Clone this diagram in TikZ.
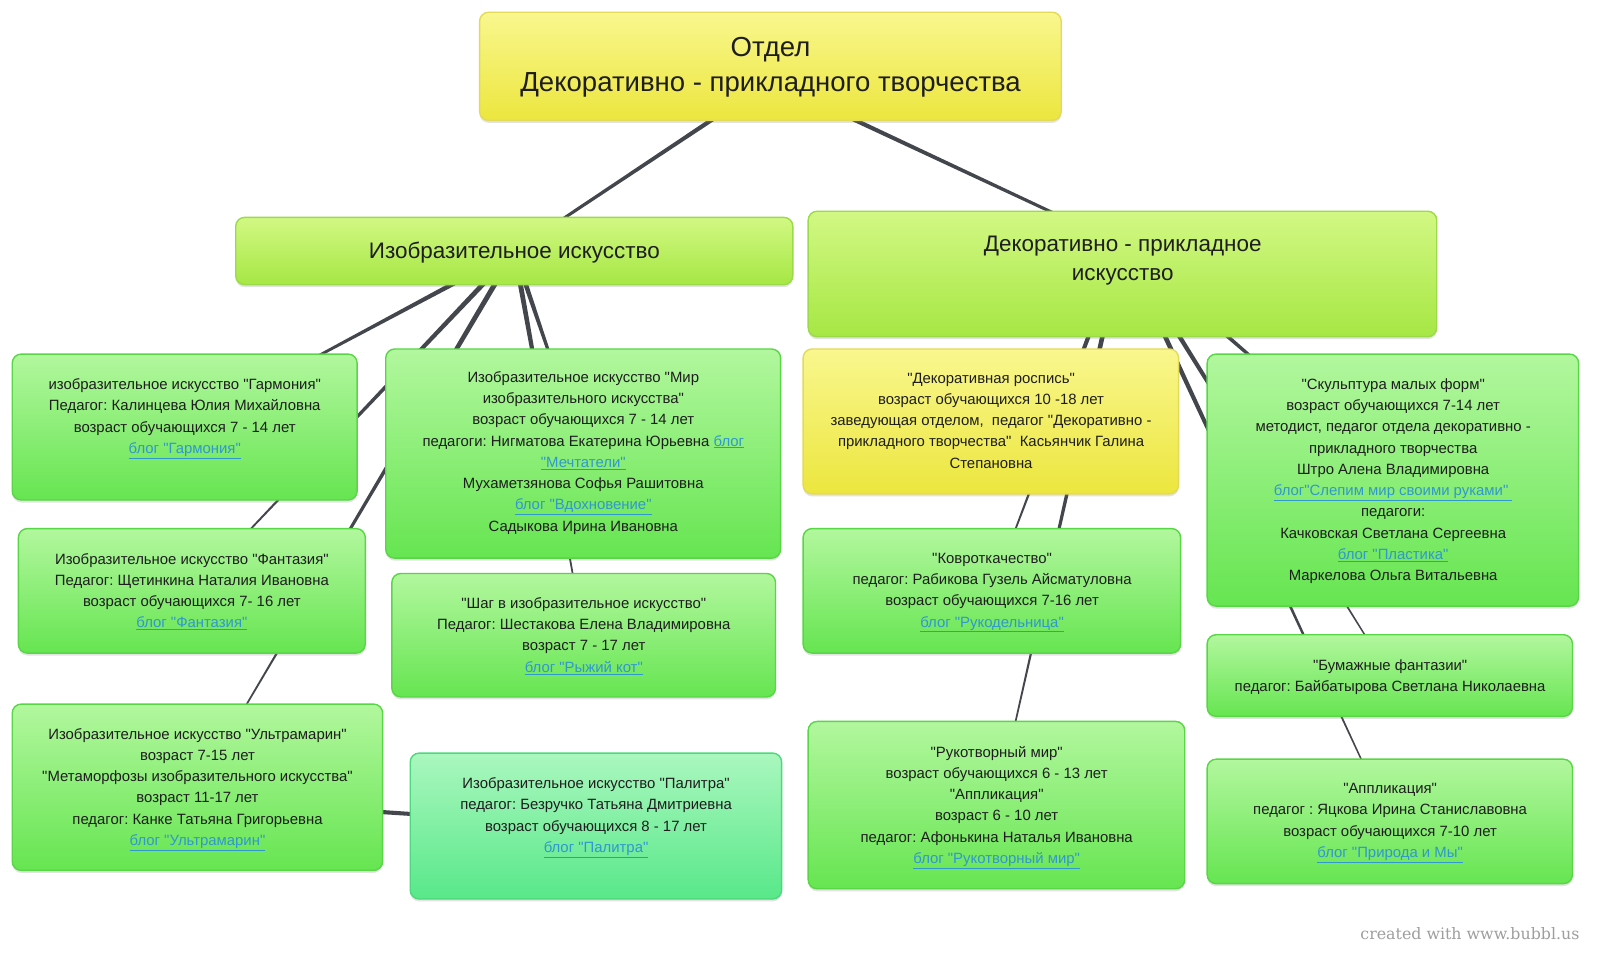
\documentclass[tikz,border=0pt]{standalone}
\usepackage{fontspec}
\setmainfont{Liberation Sans}[Ligatures=TeXOff]
\newfontfamily\creditfont{DejaVu Serif}[Ligatures=TeXOff]
\usetikzlibrary{positioning,calc,shadows,backgrounds}
\frenchspacing

\definecolor{yelTop}{HTML}{F9F78E}
\definecolor{yelMid}{HTML}{F3EF5C}
\definecolor{yelBot}{HTML}{ECE63E}
\definecolor{yelLine}{HTML}{E4DA5A}
\definecolor{limeTop}{HTML}{D2F883}
\definecolor{limeMid}{HTML}{BDF05E}
\definecolor{limeBot}{HTML}{A6E744}
\definecolor{limeLine}{HTML}{9BDB4A}
\definecolor{leafTop}{HTML}{B2F79E}
\definecolor{leafMid}{HTML}{8AEE72}
\definecolor{leafBot}{HTML}{66E551}
\definecolor{leafLine}{HTML}{58D646}
\definecolor{mintTop}{HTML}{AAF7BE}
\definecolor{mintMid}{HTML}{7FF0A4}
\definecolor{mintBot}{HTML}{58E88A}
\definecolor{mintLine}{HTML}{4CD87C}
\definecolor{linkblue}{HTML}{2F98CF}
\definecolor{wire}{HTML}{43464C}
\definecolor{inkdark}{HTML}{1E1E1E}

\newcommand{\blog}[1]{\textcolor{linkblue}{\underline{#1}}}
% tapered connector from #1 to #2
\newcommand{\branch}[4]{%
  \fill[wire] ($(#1)!#3!90:(#2)$) -- ($(#2)!#4!-90:(#1)$)
    -- ($(#2)!#4!90:(#1)$) -- ($(#1)!#3!-90:(#2)$) -- cycle;}

\tikzset{%
  % Specifications for style of boxes:
      base/.style = {rectangle, rounded corners=9pt, line width=1.4pt,
                     inner sep=0pt,
                     drop shadow={shadow xshift=0pt, shadow yshift=-2.5pt,
                                  opacity=0.22}},
   rootbox/.style = {base, draw=yelLine, top color=yelTop, middle color=yelMid,
                     bottom color=yelBot},
    yelbox/.style = {base, draw=yelLine, top color=yelTop, middle color=yelMid,
                     bottom color=yelBot},
   limebox/.style = {base, draw=limeLine, top color=limeTop,
                     middle color=limeMid, bottom color=limeBot},
   leafbox/.style = {base, draw=leafLine, top color=leafTop,
                     middle color=leafMid, bottom color=leafBot},
   mintbox/.style = {base, draw=mintLine, top color=mintTop,
                     middle color=mintMid, bottom color=mintBot},
  % Specifications for style of texts:
  roottext/.style = {align=center, inner sep=0pt, text=inkdark,
                     font=\fontsize{27}{34}\selectfont},
  limetext/.style = {align=center, inner sep=0pt, text=inkdark,
                     font=\fontsize{22}{28}\selectfont},
  leaftext/.style = {align=center, inner sep=0pt, text=inkdark,
                     font=\fontsize{14.6}{20.8}\selectfont},
    credit/.style = {inner sep=0pt, text=black!38,
                     font=\creditfont\fontsize{15.5}{18}\selectfont},
}

\begin{document}
\begin{tikzpicture}[x=1pt, y=-1pt, scale=1.0204,
    every node/.append style={transform shape}]
\useasboundingbox (0,0) rectangle (1568,936);

% top
\node (root) [rootbox, minimum width=570pt, minimum height=106pt] at (755,65) {};
\node (root-t) [roottext, below=25pt of root.north]
  {Отдел\\Декоративно - прикладного творчества};

\node (izo) [limebox, minimum width=546pt, minimum height=66pt] at (504,246) {};
\node (izo-t) [limetext, below=25pt of izo.north] {Изобразительное искусство};

\node (dpi) [limebox, minimum width=616pt, minimum height=123pt] at (1100,268.5) {};
\node (dpi-t) [limetext, below=25pt of dpi.north]
  {Декоративно - прикладное\\искусство};

\coordinate (root-hub) at ($(root)+(0,14)$);
\coordinate (dpi-hub) at ($(dpi)+(0,-28)$);

% left branch
\node (garm) [leafbox, minimum width=338pt, minimum height=143pt] at (181,418.5) {};
\node (garm-t) [leaftext, below=24.5pt of garm.north]
  {изобразительное искусство "Гармония"\\
   Педагог: Калинцева Юлия Михайловна\\
   возраст обучающихся 7 - 14 лет\\
   \blog{блог "Гармония"}};

\node (mir) [leafbox, minimum width=387pt, minimum height=205pt] at (571.5,444.5) {};
\node (mir-t) [leaftext, below=22.5pt of mir.north]
  {Изобразительное искусство "Мир\\
   изобразительного искусства"\\
   возраст обучающихся 7 - 14 лет\\
   педагоги: Нигматова Екатерина Юрьевна \blog{блог}\\
   \blog{"Мечтатели"}\\
   Мухаметзянова Софья Рашитовна\\
   \blog{блог "Вдохновение"}\\
   Садыкова Ирина Ивановна};

\node (fant) [leafbox, minimum width=340pt, minimum height=122pt] at (188,579) {};
\node (fant-t) [leaftext, below=24.5pt of fant.north]
  {Изобразительное искусство "Фантазия"\\
   Педагог: Щетинкина Наталия Ивановна\\
   возраст обучающихся 7- 16 лет\\
   \blog{блог "Фантазия"}};

\node (shag) [leafbox, minimum width=376pt, minimum height=121pt] at (572,622.5) {};
\node (shag-t) [leaftext, below=24pt of shag.north]
  {"Шаг в изобразительное искусство"\\
   Педагог: Шестакова Елена Владимировна\\
   возраст 7 - 17 лет\\
   \blog{блог "Рыжий кот"}};

\node (ultra) [leafbox, minimum width=363pt, minimum height=163pt] at (193.5,771.5) {};
\node (ultra-t) [leaftext, below=24pt of ultra.north]
  {Изобразительное искусство "Ультрамарин"\\
   возраст 7-15 лет\\
   "Метаморфозы изобразительного искусства"\\
   возраст 11-17 лет\\
   педагог: Канке Татьяна Григорьевна\\
   \blog{блог "Ультрамарин"}};
\coordinate (ultra-hub) at ($(ultra)+(0,12)$);

\node (palitra) [mintbox, minimum width=364pt, minimum height=143pt] at (584,809.5) {};
\node (palitra-t) [leaftext, below=24.5pt of palitra.north]
  {Изобразительное искусство "Палитра"\\
   педагог: Безручко Татьяна Дмитриевна\\
   возраст обучающихся 8 - 17 лет\\
   \blog{блог "Палитра"}};

% right branch
\node (rospis) [yelbox, minimum width=368pt, minimum height=142pt] at (971,413) {};
\node (rospis-t) [leaftext, below=24pt of rospis.north]
  {"Декоративная роспись"\\
   возраст обучающихся 10 -18 лет\\
   заведующая отделом,~ педагог "Декоративно -\\
   прикладного творчества"~ Касьянчик Галина\\
   Степановна};

\node (kovro) [leafbox, minimum width=370pt, minimum height=122pt] at (972,579) {};
\node (kovro-t) [leaftext, below=24.5pt of kovro.north]
  {"Ковроткачество"\\
   педагог: Рабикова Гузель Айсматуловна\\
   возраст обучающихся 7-16 лет\\
   \blog{блог "Рукодельница"}};

\node (rukotv) [leafbox, minimum width=369pt, minimum height=164pt] at (976.5,789) {};
\node (rukotv-t) [leaftext, below=24.5pt of rukotv.north]
  {"Рукотворный мир"\\
   возраст обучающихся 6 - 13 лет\\
   "Аппликация"\\
   возраст 6 - 10 лет\\
   педагог: Афонькина Наталья Ивановна\\
   \blog{блог "Рукотворный мир"}};

\node (skulpt) [leafbox, minimum width=364pt, minimum height=247pt] at (1365,470.5) {};
\node (skulpt-t) [leaftext, below=24.5pt of skulpt.north]
  {"Скульптура малых форм"\\
   возраст обучающихся 7-14 лет\\
   методист, педагог отдела декоративно -\\
   прикладного творчества\\
   Штро Алена Владимировна\\
   \blog{блог"Слепим мир своими руками" }\\
   педагоги:\\
   Качковская Светлана Сергеевна\\
   \blog{блог "Пластика"}\\
   Маркелова Ольга Витальевна};

\node (bumag) [leafbox, minimum width=358pt, minimum height=80pt] at (1362,662) {};
\node (bumag-t) [leaftext, below=24.5pt of bumag.north]
  {"Бумажные фантазии"\\
   педагог: Байбатырова Светлана Николаевна};

\node (applik) [leafbox, minimum width=358pt, minimum height=122pt] at (1362,805) {};
\node (applik-t) [leaftext, below=24pt of applik.north]
  {"Аппликация"\\
   педагог : Яцкова Ирина Станиславовна\\
   возраст обучающихся 7-10 лет\\
   \blog{блог "Природа и Мы"}};

\node (credit) [credit, anchor=base east] at (1548,921) {created with www.bubbl.us};

% connectors, behind the boxes
\begin{pgfonlayer}{background}
\fill[white] (0,0) rectangle (1568,936);
\branch{root-hub}{izo}{2.3pt}{1.3pt}
\branch{root-hub}{dpi-hub}{2.3pt}{1.3pt}
\foreach \kid in {garm,mir,fant,shag,ultra}
  \branch{izo}{\kid}{2.6pt}{0.5pt};
\branch{ultra-hub}{palitra}{2.6pt}{1.4pt}
\foreach \kid in {kovro,rukotv,skulpt,bumag,applik}
  \branch{dpi-hub}{\kid}{2.6pt}{0.5pt};
\end{pgfonlayer}
\end{tikzpicture}
\end{document}
